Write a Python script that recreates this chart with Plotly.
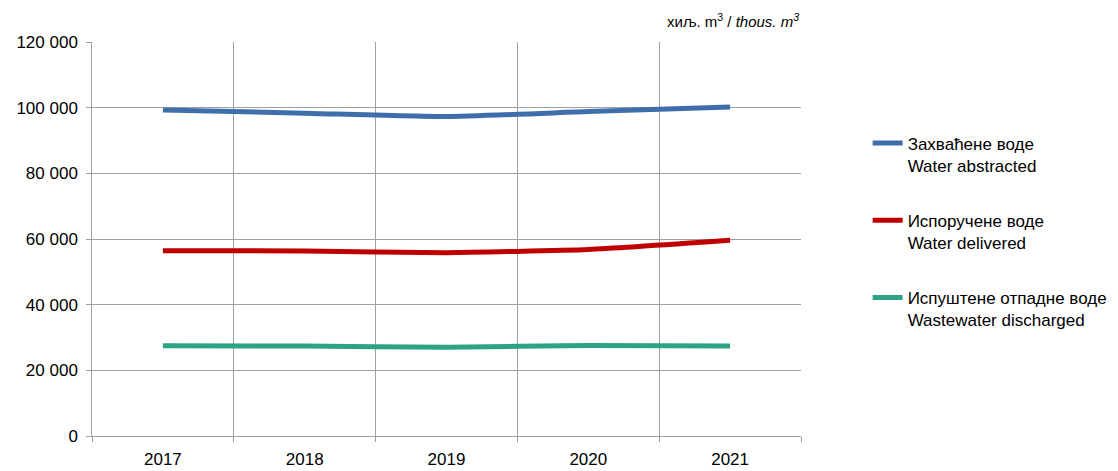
import plotly.graph_objects as go

years = ["2017", "2018", "2019", "2020", "2021"]
abstracted = [99300, 98300, 97300, 98800, 100200]
delivered = [56450, 56350, 55850, 56800, 59600]
wastewater = [27450, 27400, 27050, 27600, 27400]

names = [
    "Захваћене воде<br>Water abstracted",
    "Испоручене воде<br>Water delivered",
    "Испуштене отпадне воде<br>Wastewater discharged",
]
colors = ["#3F6FAA", "#C00000", "#2CA383"]
series = [abstracted, delivered, wastewater]

fig = go.Figure()
for i, (nm, col, vals) in enumerate(zip(names, colors, series)):
    fig.add_trace(go.Scatter(
        x=years, y=vals, name=nm, mode="lines",
        line=dict(color=col, width=5, shape="spline", smoothing=0.5),
        legendgroup=f"g{i}",
    ))

grid = "#A0A0A0"
fig.update_layout(
    width=1110, height=463,
    margin=dict(l=84, r=317, t=34, b=35, autoexpand=False),
    paper_bgcolor="white", plot_bgcolor="white",
    font=dict(family="Liberation Sans, Arial, sans-serif", size=17, color="#000000"),
    separators=". ",
    showlegend=True,
    legend=dict(
        x=1.094, xanchor="left", y=0.788, yanchor="top",
        valign="top", tracegroupgap=30, traceorder="grouped",
        font=dict(size=17), bgcolor="rgba(0,0,0,0)",
    ),
    xaxis=dict(
        type="category", range=[-0.5, 4.5], tickson="boundaries", showgrid=True,
        gridcolor=grid, gridwidth=1, automargin=False, ticklabelstandoff=8,
        showline=True, linecolor=grid, linewidth=1, ticks="outside", ticklen=5,
        tickcolor=grid, zeroline=False,
    ),
    yaxis=dict(
        range=[0, 120000], dtick=20000, tickformat=",d", showgrid=True, gridcolor=grid,
        showline=True, linecolor=grid, linewidth=1, ticks="outside", ticklen=5,
        tickcolor=grid, zeroline=False, ticksuffix=" ", automargin=False,
    ),
    annotations=[dict(
        text="хиљ. m<sup>3</sup> / <i>thous. m<sup>3</sup></i>",
        xref="paper", yref="paper", x=1.0, y=1.0, xanchor="right", yanchor="bottom",
        yshift=10, showarrow=False, font=dict(size=15, color="#000000"),
    )],
)

fig.write_html("out.html")
